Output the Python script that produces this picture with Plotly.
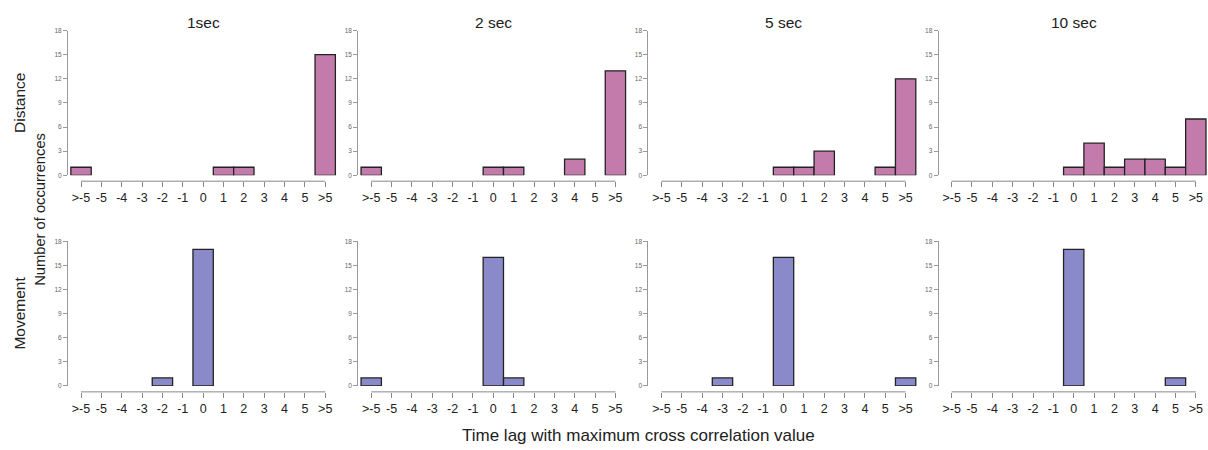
import plotly.graph_objects as go

categories = [">-5", "-5", "-4", "-3", "-2", "-1", "0", "1", "2", "3", "4", "5", ">5"]
windows = ["1sec", "2 sec", "5 sec", "10 sec"]

distance_1s  = [1, 0, 0, 0, 0, 0, 0, 1, 1, 0, 0, 0, 15]
distance_2s  = [1, 0, 0, 0, 0, 0, 1, 1, 0, 0, 2, 0, 13]
distance_5s  = [0, 0, 0, 0, 0, 0, 1, 1, 3, 0, 0, 1, 12]
distance_10s = [0, 0, 0, 0, 0, 0, 1, 4, 1, 2, 2, 1, 7]

movement_1s  = [0, 0, 0, 0, 1, 0, 17, 0, 0, 0, 0, 0, 0]
movement_2s  = [1, 0, 0, 0, 0, 0, 16, 1, 0, 0, 0, 0, 0]
movement_5s  = [0, 0, 0, 1, 0, 0, 16, 0, 0, 0, 0, 0, 1]
movement_10s = [0, 0, 0, 0, 0, 0, 17, 0, 0, 0, 0, 1, 0]

rows = [
    ("Distance", "#C27BAA", [distance_1s, distance_2s, distance_5s, distance_10s]),
    ("Movement", "#8A8ACB", [movement_1s, movement_2s, movement_5s, movement_10s]),
]

W, H = 1208, 450
FONT = "Liberation Sans, Arial, sans-serif"
unit = 20.35
xr = [-0.64, 12.56]
panel_w = (xr[1] - xr[0]) * unit
panel_left = [68 + 290.2 * i for i in range(4)]
row_ypix = [(27, 174, 180), (241, 388, 394)]  # top(18), bottom(0), x-axis line

fig = go.Figure()
layout = dict(
    width=W, height=H, margin=dict(l=0, r=0, t=0, b=0),
    paper_bgcolor="white", plot_bgcolor="white", showlegend=False,
    font=dict(family=FONT, color="#222"),
)
shapes = []
annotations = []
idx = 0
x_pos = list(range(len(categories)))
for r, (rowname, color, series) in enumerate(rows):
    top, bot, axline = row_ypix[r]
    for c in range(4):
        idx += 1
        xa = "x" if idx == 1 else f"x{idx}"
        ya = "y" if idx == 1 else f"y{idx}"
        vals = [v if v != 0 else None for v in series[c]]
        fig.add_trace(go.Bar(
            x=x_pos, y=vals, width=1.0, xaxis=xa, yaxis=ya,
            marker=dict(color=color, line=dict(color="#222222", width=1.3)),
            cliponaxis=False, hoverinfo="skip",
        ))
        L = panel_left[c]
        R = min(L + panel_w, W)
        layout["xaxis" if idx == 1 else f"xaxis{idx}"] = dict(
            domain=[L / W, R / W], range=[xr[0], xr[0] + (R - L) / unit],
            anchor="free", position=1 - axline / H,
            showgrid=False, zeroline=False, showline=False,
            ticks="outside", ticklen=5, tickwidth=1, tickcolor="#888",
            tickmode="array", tickvals=x_pos, ticktext=categories,
            tickfont=dict(size=12.5, color="#222", family=FONT),
        )
        layout["yaxis" if idx == 1 else f"yaxis{idx}"] = dict(
            domain=[1 - bot / H, 1 - top / H], range=[0, 18],
            anchor=xa, showgrid=False, zeroline=False,
            showline=True, linecolor="#999", linewidth=1,
            ticks="outside", ticklen=4, tickwidth=1, tickcolor="#999",
            tickmode="array", tickvals=[0, 3, 6, 9, 12, 15, 18],
            tickfont=dict(size=6.5, color="#666", family=FONT),
        )
        shapes.append(dict(
            type="line", xref=xa, yref="paper",
            x0=x_pos[0], x1=x_pos[-1], y0=1 - axline / H, y1=1 - axline / H,
            line=dict(color="#888", width=1),
        ))
        if r == 0:
            annotations.append(dict(
                text=windows[c], xref=xa, yref="paper", x=6, y=1 - 19 / H,
                showarrow=False, font=dict(size=15.5, color="#222", family=FONT),
                xanchor="center", yanchor="middle",
            ))
    annotations.append(dict(
        text=rowname, xref="paper", yref="paper", x=20 / W,
        y=1 - ((top + bot) / 2) / H, textangle=-90, showarrow=False,
        font=dict(size=15.5, color="#222", family=FONT),
        xanchor="center", yanchor="middle",
    ))

annotations.append(dict(
    text="Number of occurrences", xref="paper", yref="paper", x=40 / W,
    y=1 - 209 / H, textangle=-90, showarrow=False,
    font=dict(size=14.7, color="#222", family=FONT),
    xanchor="center", yanchor="middle",
))
annotations.append(dict(
    text="Time lag with maximum cross correlation value", xref="paper", yref="paper",
    x=638 / W, y=1 - 438 / H, showarrow=False,
    font=dict(size=17, color="#222", family=FONT),
    xanchor="center", yanchor="middle",
))
layout["shapes"] = shapes
layout["annotations"] = annotations
fig.update_layout(**layout)
fig.write_html("out.html")
